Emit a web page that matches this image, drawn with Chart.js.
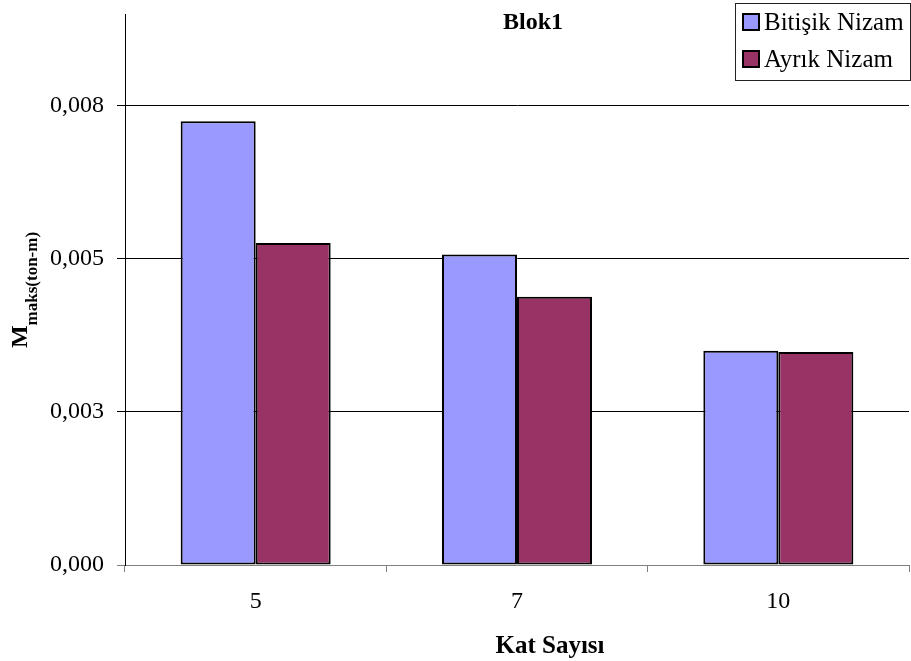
<!DOCTYPE html>
<html>
<head>
<meta charset="utf-8">
<script src="https://cdn.jsdelivr.net/npm/chart.js@4"></script>
<style>
  html, body { margin: 0; padding: 0; background: #fff; }
  #wrap { width: 911px; height: 661px; }
</style>
</head>
<body>
<div id="wrap"><canvas id="blokChart"></canvas></div>
<script>
const categories = ['5', '7', '10'];
const bitisikNizam = [0.00725, 0.00507, 0.00350];
const ayrikNizam = [0.00526, 0.00438, 0.00348];
const yTickValues = [0, 0.0025, 0.005, 0.0075];
const yTickLabels = ['0,000', '0,003', '0,005', '0,008'];

const FONT = '"Liberation Serif", "Times New Roman", serif';

// title, legend box, axis titles (y one has a subscript) are drawn by hand
const overlayPlugin = {
    id: 'overlay',
    afterDraw(chart) {
        const ctx = chart.ctx;
        ctx.save();

        // title
        ctx.fillStyle = '#000';
        ctx.font = 'bold 24px ' + FONT;
        ctx.textAlign = 'center';
        ctx.textBaseline = 'alphabetic';
        ctx.fillText('Blok1', 533, 29);

        // x axis title
        ctx.font = 'bold 25px ' + FONT;
        ctx.fillText('Kat Sayısı', 550, 653);

        // legend
        ctx.fillStyle = '#fff';
        ctx.fillRect(735, 3, 176, 77);
        ctx.strokeStyle = '#222';
        ctx.lineWidth = 1;
        ctx.strokeRect(735.5, 3.5, 175, 77);
        chart.data.datasets.forEach(function(ds, i) {
            const y = 13 + i * 37;
            ctx.fillStyle = ds.backgroundColor;
            ctx.fillRect(743, y + 1, 16, 16);
            ctx.strokeStyle = '#000';
            ctx.lineWidth = 2;
            ctx.strokeRect(743, y + 1, 16, 16);
            ctx.fillStyle = '#000';
            ctx.font = '25px ' + FONT;
            ctx.textAlign = 'left';
            ctx.textBaseline = 'alphabetic';
            ctx.fillText(ds.label, 764, y + 17);
        });

        // y axis title: M with subscript
        const mainFont = 'bold 24px ' + FONT;
        const subFont = 'bold 17px ' + FONT;
        ctx.font = mainFont;
        const wM = ctx.measureText('M').width;
        ctx.font = subFont;
        const wS = ctx.measureText('maks(ton-m)').width;
        const total = wM + wS;
        ctx.translate(0, 290);
        ctx.rotate(-Math.PI / 2);
        ctx.fillStyle = '#000';
        ctx.textAlign = 'left';
        ctx.textBaseline = 'alphabetic';
        ctx.font = mainFont;
        ctx.fillText('M', -total / 2, 27);
        ctx.font = subFont;
        ctx.fillText('maks(ton-m)', -total / 2 + wM, 37);

        ctx.restore();
    }
};

new Chart(document.getElementById('blokChart').getContext('2d'), {
    type: 'bar',
    data: {
        labels: categories,
        datasets: [{
            label: 'Bitişik Nizam',
            data: bitisikNizam,
            backgroundColor: '#9999FF',
            borderColor: '#000',
            borderWidth: 2,
            borderSkipped: false
        }, {
            label: 'Ayrık Nizam',
            data: ayrikNizam,
            backgroundColor: '#993366',
            borderColor: '#000',
            borderWidth: 2,
            borderSkipped: false
        }]
    },
    options: {
        responsive: true,
        maintainAspectRatio: false,
        animation: false,
        layout: {
            padding: { top: 14, right: 2, left: 0, bottom: 0 }
        },
        datasets: {
            bar: {
                categoryPercentage: 0.574,
                barPercentage: 1
            }
        },
        plugins: {
            legend: { display: false },
            title: { display: false },
            tooltip: { enabled: false }
        },
        scales: {
            x: {
                offset: true,
                afterFit: function(scale) {
                    scale.height = 96;
                    scale.paddingLeft = 0;
                    scale.paddingRight = 0;
                },
                grid: {
                    offset: true,
                    drawOnChartArea: false,
                    tickLength: 7,
                    color: '#808080'
                },
                border: { color: '#808080', width: 1 },
                ticks: {
                    color: '#000',
                    padding: 15,
                    font: { family: FONT, size: 24 }
                }
            },
            y: {
                min: 0,
                max: 0.009,
                afterFit: function(scale) {
                    scale.width = 125;
                    scale.paddingTop = 0;
                    scale.paddingBottom = 0;
                },
                afterBuildTicks: function(scale) {
                    scale.ticks = yTickValues.map(function(v) { return { value: v }; });
                },
                grid: {
                    color: function(c) { return c.tick && c.tick.value === 0 ? 'rgba(0,0,0,0)' : '#000'; },
                    tickColor: function(c) { return c.tick && c.tick.value === 0 ? '#808080' : '#000'; },
                    tickLength: 8
                },
                border: { color: '#000', width: 1 },
                ticks: {
                    color: '#000',
                    padding: 13,
                    font: { family: FONT, size: 24 },
                    callback: function(value, index) { return yTickLabels[index]; }
                }
            }
        }
    },
    plugins: [overlayPlugin]
});
</script>
</body>
</html>
